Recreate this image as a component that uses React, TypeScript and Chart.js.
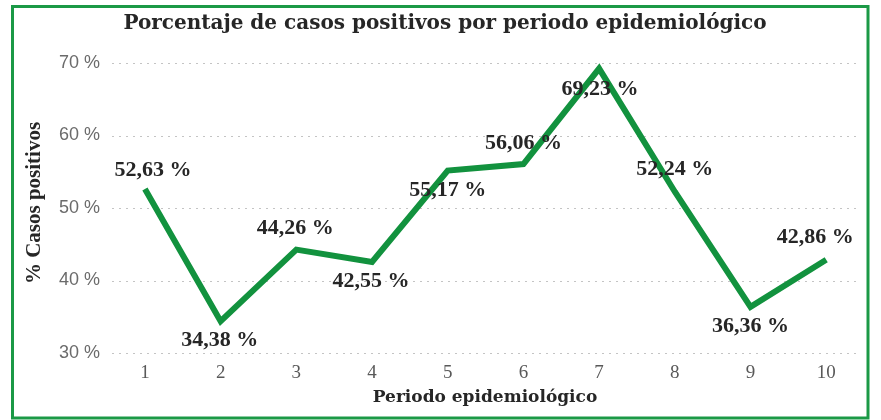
import { useEffect, useRef } from 'react';
import { Chart, registerables } from 'chart.js';

Chart.register(...registerables);

const periods = [1, 2, 3, 4, 5, 6, 7, 8, 9, 10];
const positivity = [52.63, 34.38, 44.26, 42.55, 55.17, 56.06, 69.23, 52.24, 36.36, 42.86];
const yTickValues = [30, 40, 50, 60, 70];
const titleText = 'Porcentaje de casos positivos por periodo epidemiológico';
const xTitleText = 'Periodo epidemiológico';
const yTitleText = '% Casos positivos';

// data-label placement relative to each point (dx, dy) in px
const labelOffsets: [number, number][] = [
  [8, -19], [-1, 19], [-1, -21], [-1, 19], [0, 20],
  [0, -21], [1, 21], [0, -22], [0, 19], [-11, -22],
];

const fmt = (v: number) => v.toFixed(2).replace('.', ',') + ' %';

const GREEN = '#12923e';

const decorPlugin = {
  id: 'decor',
  beforeDatasetsDraw(chart: any) {
    const { ctx, chartArea, scales } = chart;
    ctx.save();
    ctx.strokeStyle = '#c4c4c4';
    ctx.lineWidth = 1;
    ctx.setLineDash([2, 5]);
    for (const v of yTickValues) {
      const y = Math.round(scales.y.getPixelForValue(v)) + 0.5;
      ctx.beginPath();
      ctx.moveTo(chartArea.left, y);
      ctx.lineTo(chartArea.right, y);
      ctx.stroke();
    }
    ctx.restore();
  },
  afterDatasetsDraw(chart: any) {
    const { ctx } = chart;
    const meta = chart.getDatasetMeta(0);
    ctx.save();
    ctx.fillStyle = '#262626';
    ctx.font = 'bold 22px "Liberation Serif"';
    ctx.textAlign = 'center';
    ctx.textBaseline = 'middle';
    meta.data.forEach((pt: any, i: number) => {
      const [dx, dy] = labelOffsets[i];
      ctx.fillText(fmt(positivity[i]), pt.x + dx, pt.y + dy);
    });
    ctx.restore();
  },
  afterDraw(chart: any) {
    const { ctx, chartArea } = chart;
    ctx.save();
    ctx.fillStyle = '#262626';
    ctx.textAlign = 'center';
    ctx.textBaseline = 'middle';
    ctx.font = 'bold 20px "DejaVu Serif"';
    ctx.fillText(titleText, 445, 24);
    ctx.font = 'bold 17px "DejaVu Serif"';
    ctx.fillText(xTitleText, (chartArea.left + chartArea.right) / 2, 398);
    ctx.translate(35, 203);
    ctx.rotate(-Math.PI / 2);
    ctx.font = 'bold 21px "Liberation Serif"';
    ctx.fillText(yTitleText, 0, 0);
    ctx.restore();
    ctx.save();
    ctx.strokeStyle = '#1b9946';
    ctx.lineWidth = 3;
    ctx.strokeRect(12.5, 6.5, 855.5, 411.5);
    ctx.restore();
  },
};

export default function App() {
  const ref = useRef<HTMLCanvasElement | null>(null);
  useEffect(() => {
    if (!ref.current) return;
    const chart = new Chart(ref.current, {
      type: 'line',
      data: {
        datasets: [
          {
            data: periods.map((p, i) => ({ x: p, y: positivity[i] })),
            borderColor: GREEN,
            backgroundColor: GREEN,
            borderWidth: 6,
            borderJoinStyle: 'miter',
            borderCapStyle: 'butt',
            pointRadius: 0,
            tension: 0,
            fill: false,
          },
        ],
      },
      options: {
        animation: false,
        responsive: true,
        maintainAspectRatio: false,
        layout: { padding: { left: 0, right: 23, top: 63, bottom: 0 } },
        plugins: { legend: { display: false }, title: { display: false }, tooltip: { enabled: false } },
        scales: {
          x: {
            type: 'linear',
            min: 0.565,
            max: 10.42,
            afterFit: (s: any) => { s.height = 67; },
            grid: { display: false, drawTicks: false },
            border: { display: false },
            ticks: {
              stepSize: 1,
              includeBounds: false,
              padding: 9,
              color: '#595959',
              font: { family: '"Liberation Serif"', size: 19 },
              callback: (v: any) => String(v),
            },
          },
          y: {
            min: 30,
            max: 70,
            afterFit: (s: any) => { s.width = 112; },
            grid: { display: false, drawTicks: false },
            border: { display: false },
            ticks: {
              stepSize: 10,
              padding: 12,
              color: '#6b6b6b',
              font: { family: '"Liberation Sans"', size: 18 },
              callback: (v: any) => v + ' %',
            },
          },
        },
      },
      plugins: [decorPlugin],
    } as any);
    return () => chart.destroy();
  }, []);
  return (
    <div style={{ position: 'absolute', left: 0, top: 0, width: 881, height: 420, background: '#fff' }}>
      <canvas ref={ref} />
    </div>
  );
}
